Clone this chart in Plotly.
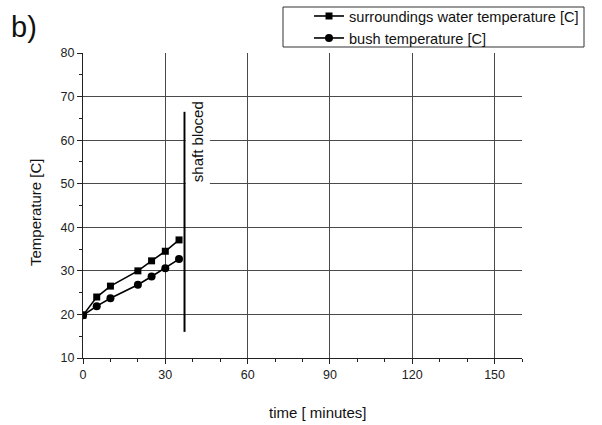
import plotly.graph_objects as go

# ---- data ----
time_min = [0, 5, 10, 20, 25, 30, 35]
water_temp = [19.8, 24.0, 26.5, 30.0, 32.3, 34.5, 37.1]
bush_temp = [19.8, 21.9, 23.7, 26.8, 28.7, 30.6, 32.7]
x_ticks = [0, 30, 60, 90, 120, 150]
y_ticks = [10, 20, 30, 40, 50, 60, 70, 80]
blocked_time = 37
blocked_span = [16, 66.5]

W, H = 602, 425
L, R, T, B = 83, 522, 53, 358  # plot area in px


def px(x):
    return (x - L) / (R - L)


def py(y):
    return (B - y) / (B - T)


FONT = "Liberation Sans, Arial, sans-serif"

fig = go.Figure()
fig.add_trace(go.Scatter(
    x=time_min, y=water_temp, mode="lines+markers",
    name="surroundings water temperature [C]",
    line=dict(color="black", width=1.6),
    marker=dict(symbol="square", size=7, color="black"),
))
fig.add_trace(go.Scatter(
    x=time_min, y=bush_temp, mode="lines+markers",
    name="bush temperature [C]",
    line=dict(color="black", width=1.6),
    marker=dict(symbol="circle", size=8, color="black"),
))

# shaft blocked line
fig.add_shape(type="line", xref="x", yref="y",
              x0=blocked_time, x1=blocked_time,
              y0=blocked_span[0], y1=blocked_span[1],
              line=dict(color="black", width=2))

# legend frame
fig.add_shape(type="rect", xref="paper", yref="paper",
              x0=px(283), x1=px(584), y0=py(47), y1=py(7),
              line=dict(color="#333", width=1), fillcolor="white", layer="below")

annotations = [
    dict(text="shaft bloced", x=42, y=59.6, xref="x", yref="y",
         textangle=-90, showarrow=False, bgcolor="white", borderpad=3,
         font=dict(family=FONT, size=15, color="#111")),
    dict(text="b)", x=px(9), y=py(27), xref="paper", yref="paper",
         xanchor="left", yanchor="middle", showarrow=False,
         font=dict(family=FONT, size=29, color="#111")),
    dict(text="time [ minutes]", x=px(318), y=py(412), xref="paper", yref="paper",
         xanchor="center", yanchor="middle", showarrow=False,
         font=dict(family=FONT, size=15, color="#111")),
    dict(text="Temperature [C]", x=px(35), y=py(212), xref="paper", yref="paper",
         xanchor="center", yanchor="middle", showarrow=False, textangle=-90,
         font=dict(family=FONT, size=15, color="#111")),
]

fig.update_layout(
    width=W, height=H,
    margin=dict(l=L, r=W - R, t=T, b=H - B, pad=0, autoexpand=False),
    paper_bgcolor="white", plot_bgcolor="white",
    font=dict(family=FONT, size=12, color="#222"),
    showlegend=True,
    legend=dict(x=px(309), y=py(0), xanchor="left", yanchor="top",
                bgcolor="rgba(0,0,0,0)", borderwidth=0,
                font=dict(family=FONT, size=14.6, color="#111"),
                itemwidth=30, tracegroupgap=0),
    annotations=annotations,
)

fig.update_xaxes(
    range=[0, 160], tickvals=x_ticks, showgrid=True,
    gridcolor="#4a4a4a", gridwidth=1, zeroline=False,
    showline=True, linecolor="#222", linewidth=1.2,
    ticks="outside", ticklen=5, tickcolor="#222",
    minor=dict(dtick=10, tick0=0, ticks="outside", ticklen=3, tickcolor="#222", showgrid=False),
    tickfont=dict(family=FONT, size=12.5, color="#222"),
)
fig.update_yaxes(
    range=[10, 80], tickvals=y_ticks, showgrid=True,
    gridcolor="#4a4a4a", gridwidth=1, zeroline=False,
    showline=True, linecolor="#222", linewidth=1.2,
    ticks="outside", ticklen=5, tickcolor="#222",
    minor=dict(dtick=5, tick0=0, ticks="outside", ticklen=3, tickcolor="#222", showgrid=False),
    tickfont=dict(family=FONT, size=12.5, color="#222"),
)

fig.write_html("out.html")
